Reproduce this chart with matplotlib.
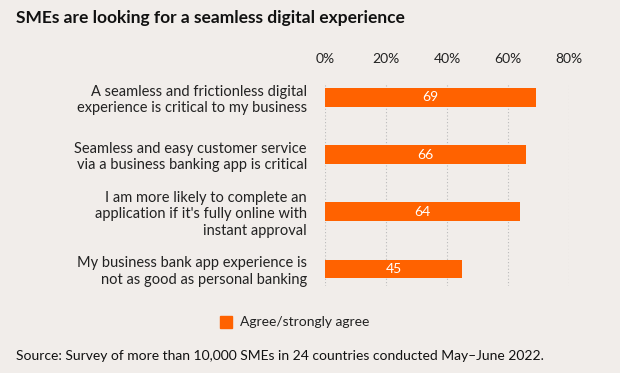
import matplotlib.pyplot as plt

# data
labels = [
    "A seamless and frictionless digital\nexperience is critical to my business",
    "Seamless and easy customer service\nvia a business banking app is critical",
    "I am more likely to complete an\napplication if it's fully online with\ninstant approval",
    "My business bank app experience is\nnot as good as personal banking",
]
values = [69, 66, 64, 45]
ticks = [0, 20, 40, 60, 80]
tick_labels = ["0%", "20%", "40%", "60%", "80%"]

bg = "#F1EDEA"
orange = "#FF6200"
plt.rcParams['font.family'] = ['Lato', 'DejaVu Sans']

fig = plt.figure(figsize=(6.2, 3.73), dpi=100, facecolor=bg)
ax = fig.add_axes([0.524, 0.233, 0.394, 0.544], facecolor=bg)

y = list(range(len(values)))
ax.barh(y, values, height=0.33, color=orange, zorder=3)
for yi, v in zip(y, values):
    ax.text(v / 2, yi, str(v), color="white", ha="center", va="center",
            fontsize=10, zorder=4)

ax.set_xlim(0, 80)
ax.set_ylim(3.3, -0.25)
ax.set_xticks(ticks)
ax.set_xticklabels(tick_labels, fontsize=10, color="#222222")
ax.xaxis.tick_top()
ax.set_yticks(y)
ax.set_yticklabels(labels, fontsize=10.5, color="#222222", linespacing=1.2)
ax.tick_params(axis="both", length=0)
ax.tick_params(axis="x", pad=13)
ax.tick_params(axis="y", pad=13)
ax.grid(axis="x", color="#BBBBBB", linestyle=(0, (1, 2)), linewidth=0.8, zorder=0)
for s in ax.spines.values():
    s.set_visible(False)

fig.text(16 / 620, 1 - 18 / 373, "SMEs are looking for a seamless digital experience",
         fontsize=12.5, fontweight="bold", va="center", ha="left", color="#111111")

# legend
fig.patches.append(plt.Rectangle((220 / 620, 1 - 328 / 373), 12 / 620, 12 / 373,
                                 transform=fig.transFigure, color=orange))
fig.text(240 / 620, 1 - 322 / 373, "Agree/strongly agree", fontsize=10,
         va="center", ha="left", color="#222222")

fig.text(16 / 620, 1 - 356 / 373,
         "Source: Survey of more than 10,000 SMEs in 24 countries conducted May\u2013June 2022.",
         fontsize=10, va="center", ha="left", color="#111111")

fig.savefig("out.png", dpi=100, facecolor=bg)
